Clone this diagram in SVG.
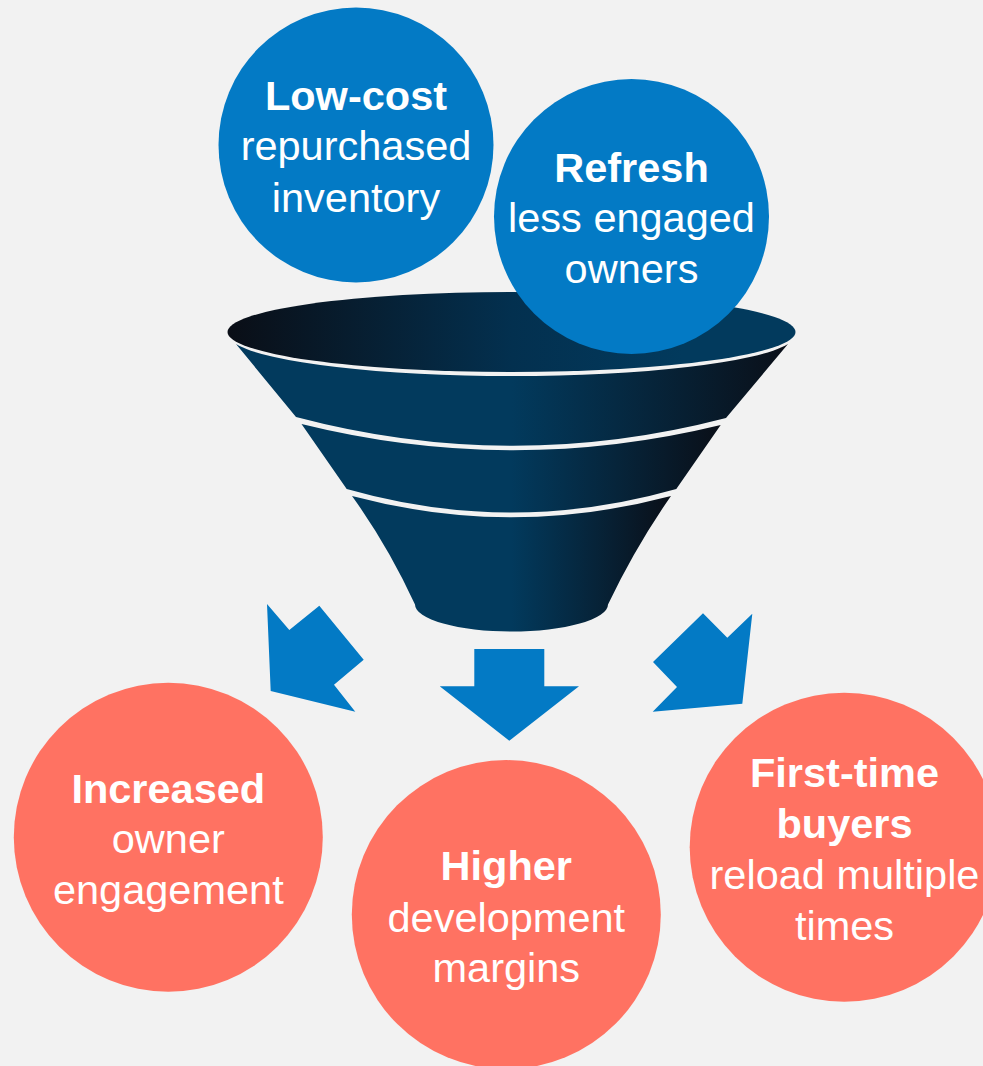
<svg xmlns="http://www.w3.org/2000/svg" width="983" height="1066" viewBox="0 0 983 1066">
<style>
.blue{fill:#037AC5}
.coral{fill:#FF7262}
.t{font-family:"Liberation Sans",Arial,sans-serif;font-size:41.5px;fill:#FFFFFF;text-anchor:middle}
.b{font-weight:bold}
.band{fill:url(#bandGrad)}
</style>
<defs>
<linearGradient id="bandGrad" x1="0" y1="0" x2="1" y2="0">
<stop offset="0" stop-color="#023A5D"/>
<stop offset="0.5" stop-color="#023A5D"/>
<stop offset="1" stop-color="#0A0F18"/>
</linearGradient>
<linearGradient id="topGrad" x1="0" y1="0" x2="1" y2="0">
<stop offset="0" stop-color="#0A0E16"/>
<stop offset="0.5" stop-color="#03304F"/>
<stop offset="0.8" stop-color="#023A5D"/>
<stop offset="1" stop-color="#023A5D"/>
</linearGradient>
</defs>
<rect x="0" y="0" width="983" height="1066" fill="#F2F2F2"/>

<g id="funnel">
<path class="band" d="M236,344 A284 42 0 0 0 788,344 L726,418 Q511,474 296,417 Z"/>
<path class="band" d="M301.5,424 Q511,476 720.7,425 L676.3,489 Q511,536 346.7,489 Z"/>
<path class="band" d="M352,496 Q511,538.5 671,496 Q636,546 608,604.5 A96.5 27 0 0 1 415,604.5 Q388,546 352,496 Z"/>
<ellipse cx="511.5" cy="332" rx="284" ry="40" fill="url(#topGrad)"/>
</g>

<g id="node-lowcost">
<circle class="blue" cx="356" cy="145" r="137.5"/>
<text class="t b" x="356" y="110">Low-cost</text>
<text class="t" x="356" y="160">repurchased</text>
<text class="t" x="356" y="211.5">inventory</text>
</g>

<g id="node-refresh">
<circle class="blue" cx="631.5" cy="216.5" r="137.5"/>
<text class="t b" x="631.5" y="181.7">Refresh</text>
<text class="t" x="631.5" y="231.7">less engaged</text>
<text class="t" x="631.5" y="283">owners</text>
</g>

<g id="connectors">
<polygon class="blue" points="267,604 289.3,630 319.3,605.7 363.7,659.7 334,684.7 355.3,711.7 270.7,691"/>
<polygon class="blue" points="474.3,649 544.3,649 544.3,686.3 579,686.3 509.3,740.7 439.7,686.3 474.3,686.3"/>
<polygon class="blue" points="703,613.3 727.3,637.7 752.3,613.7 742.3,703.7 652.7,711.7 677,687 653,662"/>
</g>

<g id="node-increased">
<circle class="coral" cx="168.3" cy="837.2" r="154.5"/>
<text class="t b" x="168.3" y="802.7">Increased</text>
<text class="t" x="168.3" y="853.3">owner</text>
<text class="t" x="168.3" y="904.3">engagement</text>
</g>

<g id="node-higher">
<circle class="coral" cx="506.3" cy="914.6" r="154.5"/>
<text class="t b" x="506.3" y="880">Higher</text>
<text class="t" x="506.3" y="931.7">development</text>
<text class="t" x="506.3" y="982.3">margins</text>
</g>

<g id="node-firsttime">
<circle class="coral" cx="844.2" cy="847.2" r="154.5"/>
<text class="t b" x="844.5" y="786.7">First-time</text>
<text class="t b" x="844.5" y="838.3">buyers</text>
<text class="t" x="844.5" y="889.3">reload multiple</text>
<text class="t" x="844.5" y="940">times</text>
</g>
</svg>
